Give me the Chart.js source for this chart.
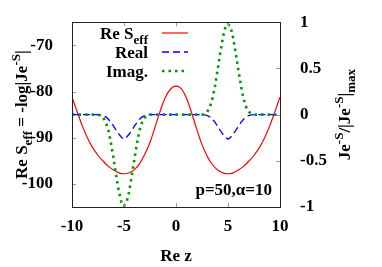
<!DOCTYPE html>
<html>
<head>
<meta charset="utf-8">
<script src="https://cdn.jsdelivr.net/npm/chart.js@4.4.1/dist/chart.umd.min.js"></script>
<style>
html,body{margin:0;padding:0;background:#fff;}
#c{display:block;}
</style>
</head>
<body>
<canvas id="c" width="382" height="267"></canvas>
<script>
// ---- data ----
const zRe = [-10,-9.5,-9,-8.5,-8,-7.5,-7,-6.5,-6,-5.5,-5,-4.5,-4,-3.5,-3,-2.5,-2,-1.5,-1,-0.5,0,
             0.5,1,1.5,2,2.5,3,3.5,4,4.5,5,5.5,6,6.5,7,7.5,8,8.5,9,9.5,10];
const reSeff = [-81.2,-84.4,-87.5,-90.1,-92.2,-93.8,-95.1,-96.2,-97.0,-97.6,-97.8,-97.6,-96.9,-95.6,-93.6,-91.0,-87.6,-84.1,-81.2,-79.4,-78.8,
                -79.4,-81.4,-84.6,-88.2,-91.5,-94.0,-95.8,-97.0,-97.6,-97.8,-97.6,-97.0,-96.2,-95.1,-93.8,-92.2,-90.1,-87.5,-84.4,-81.2];
const zJ = [-10,
  -7.5,-7.25,-7,-6.75,-6.5,-6.25,-6,-5.75,-5.5,-5.25,-5,-4.75,-4.5,-4.25,-4,-3.75,-3.5,-3.25,-3,-2.75,-2.5,
  2.5,2.75,3,3.25,3.5,3.75,4,4.25,4.5,4.75,5,5.25,5.5,5.75,6,6.25,6.5,6.75,7,7.25,7.5,
  10];
const realPart = [0,
  0,-0.003,-0.01,-0.025,-0.05,-0.085,-0.125,-0.17,-0.21,-0.245,-0.265,-0.245,-0.21,-0.17,-0.125,-0.085,-0.05,-0.025,-0.01,-0.003,0,
  0,-0.003,-0.01,-0.025,-0.05,-0.085,-0.125,-0.17,-0.21,-0.245,-0.265,-0.245,-0.21,-0.17,-0.125,-0.085,-0.05,-0.025,-0.01,-0.003,0,
  0];
const imagPart = [0,
  0,-0.01,-0.03,-0.08,-0.17,-0.31,-0.48,-0.66,-0.83,-0.95,-0.99,-0.95,-0.83,-0.66,-0.48,-0.31,-0.17,-0.08,-0.03,-0.01,0,
  0,0.01,0.03,0.08,0.17,0.31,0.48,0.66,0.83,0.95,0.98,0.95,0.83,0.66,0.48,0.31,0.17,0.08,0.03,0.01,0,
  0];
const xTicks = [-10,-5,0,5,10];
const yLeftTicks = [-100,-90,-80,-70];
const yRightTicks = [-1,-0.5,0,0.5,1];
const seriesNames = ['Re S', 'Real', 'Imag.'];
const annotationText = 'p=50,\u03B1=10';

// ---- styling ----
const FAM = "'Liberation Serif','Times New Roman',serif";
const FS = 17, FS_SMALL = 13;
const RED = '#ff0000', BLUE = '#0000ff', GREEN = '#009a00';

function font(sz){ return 'bold ' + sz + 'px ' + FAM; }
function richWidth(ctx, segs){
  let w = 0;
  for (const s of segs){ ctx.font = font(s.k === 'n' ? FS : FS_SMALL); w += ctx.measureText(s.t).width; }
  return w;
}
function drawRich(ctx, segs, x, y){
  let cx = x;
  ctx.textBaseline = 'alphabetic';
  ctx.textAlign = 'left';
  for (const s of segs){
    ctx.font = font(s.k === 'n' ? FS : FS_SMALL);
    const dy = s.k === 'sub' ? 5 : (s.k === 'sup' ? -7 : 0);
    ctx.fillText(s.t, cx, y + dy);
    cx += ctx.measureText(s.t).width;
  }
}

const leftTitle = [{t:'Re S',k:'n'},{t:'eff',k:'sub'},{t:' = -log|Je',k:'n'},{t:'-S',k:'sup'},{t:'|',k:'n'}];
const rightTitle = [{t:'Je',k:'n'},{t:'-S',k:'sup'},{t:'/|Je',k:'n'},{t:'-S',k:'sup'},{t:'|',k:'n'},{t:'max',k:'sub'}];
const legendRows = [
  {segs:[{t:seriesNames[0],k:'n'},{t:'eff',k:'sub'}], color:RED, dash:[], w:1.2},
  {segs:[{t:seriesNames[1],k:'n'}], color:BLUE, dash:[7,4], w:1.3},
  {segs:[{t:seriesNames[2],k:'n'}], color:GREEN, dash:[2.5,4], w:2.6}
];

const decor = {
  id:'decor',
  afterDraw(chart){
    const ctx = chart.ctx, a = chart.chartArea;
    const sx = chart.scales.x, sy = chart.scales.y, sy2 = chart.scales.y2;
    ctx.save();
    // inward tick marks
    ctx.strokeStyle = '#9a9a9a'; ctx.lineWidth = 1;
    ctx.beginPath();
    for (const v of xTicks){
      const px = Math.round(sx.getPixelForValue(v)) + 0.5;
      ctx.moveTo(px, a.bottom); ctx.lineTo(px, a.bottom - 4);
      ctx.moveTo(px, a.top); ctx.lineTo(px, a.top + 4);
    }
    for (const v of yLeftTicks){
      const py = Math.round(sy.getPixelForValue(v)) + 0.5;
      ctx.moveTo(a.left, py); ctx.lineTo(a.left + 4, py);
    }
    for (const v of yRightTicks){
      const py = Math.round(sy2.getPixelForValue(v)) + 0.5;
      ctx.moveTo(a.right, py); ctx.lineTo(a.right - 4, py);
    }
    ctx.stroke();
    // frame
    ctx.strokeStyle = '#222'; ctx.lineWidth = 1;
    ctx.strokeRect(Math.round(a.left) + 0.5, Math.round(a.top) + 0.5, Math.round(a.right - a.left), Math.round(a.bottom - a.top));
    // legend
    ctx.fillStyle = '#000';
    legendRows.forEach((r, i) => {
      const ly = 33 + i * 19;
      const w = richWidth(ctx, r.segs);
      drawRich(ctx, r.segs, 148 - w, ly + 6);
      ctx.beginPath();
      ctx.strokeStyle = r.color; ctx.lineWidth = r.w; ctx.setLineDash(r.dash);
      ctx.moveTo(162, ly); ctx.lineTo(188, ly); ctx.stroke();
      ctx.setLineDash([]);
    });
    // annotation
    ctx.fillStyle = '#000';
    ctx.font = font(FS); ctx.textAlign = 'right'; ctx.textBaseline = 'alphabetic';
    ctx.fillText(annotationText, 272, 195);
    // x title
    ctx.textAlign = 'center';
    ctx.fillText('Re z', (a.left + a.right) / 2, 261);
    // left title
    const cy = (a.top + a.bottom) / 2;
    let w = richWidth(ctx, leftTitle);
    ctx.save(); ctx.translate(27, cy); ctx.rotate(-Math.PI/2);
    drawRich(ctx, leftTitle, -w/2, 0); ctx.restore();
    // right title
    w = richWidth(ctx, rightTitle);
    ctx.save(); ctx.translate(350, cy); ctx.rotate(-Math.PI/2);
    drawRich(ctx, rightTitle, -w/2, 0); ctx.restore();
    ctx.restore();
  }
};

const tickFont = {family:FAM, size:FS, weight:'bold'};
function fixTicks(list){ return (scale) => { scale.ticks = list.map(v => ({value:v})); }; }

new Chart(document.getElementById('c'), {
  type:'line',
  data:{
    datasets:[
      {label:'Re Seff', yAxisID:'y', data: zRe.map((z,i)=>({x:z, y:reSeff[i]})),
       borderColor:RED, borderWidth:1.2, pointRadius:0, tension:0.35, order:3},
      {label:'Real', yAxisID:'y2', data: zJ.map((z,i)=>({x:z, y:realPart[i]})),
       borderColor:BLUE, borderWidth:1.3, borderDash:[7,4], pointRadius:0, tension:0, order:2},
      {label:'Imag.', yAxisID:'y2', data: zJ.map((z,i)=>({x:z, y:imagPart[i]})),
       borderColor:GREEN, borderWidth:2.6, borderDash:[2.5,4], pointRadius:0, tension:0, order:1}
    ]
  },
  options:{
    responsive:false, animation:false, devicePixelRatio:1,
    layout:{padding:{top:22, left:0, right:0, bottom:0}},
    plugins:{legend:{display:false}, tooltip:{enabled:false}},
    scales:{
      x:{type:'linear', min:-10, max:10, afterBuildTicks:fixTicks(xTicks),
         grid:{display:false}, border:{display:false},
         ticks:{font:tickFont, color:'#000', padding:1, maxRotation:0, callback:v=>String(v)},
         afterFit:(s)=>{ s.height = 60; }},
      y:{type:'linear', position:'left', min:-105, max:-65, afterBuildTicks:fixTicks(yLeftTicks),
         grid:{display:false}, border:{display:false},
         ticks:{font:tickFont, color:'#000', padding:11, callback:v=>String(v)},
         afterFit:(s)=>{ s.width = 72; }},
      y2:{type:'linear', position:'right', min:-1, max:1, afterBuildTicks:fixTicks(yRightTicks),
         grid:{display:false}, border:{display:false},
         ticks:{font:tickFont, color:'#000', padding:12, callback:v=>String(v)},
         afterFit:(s)=>{ s.width = 102; }}
    }
  },
  plugins:[decor]
});
</script>
</body>
</html>
